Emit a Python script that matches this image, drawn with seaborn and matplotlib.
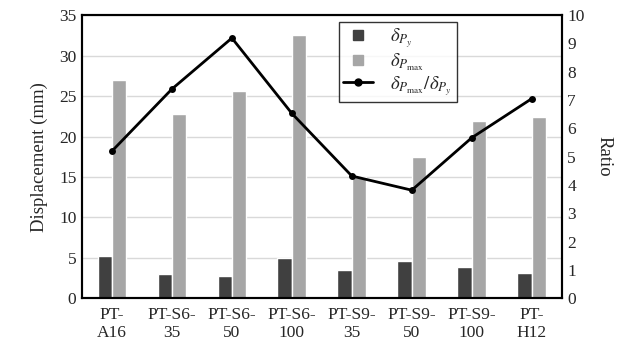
import numpy as np
import pandas as pd
import matplotlib
matplotlib.use("Agg")
import matplotlib.pyplot as plt
from matplotlib.lines import Line2D
import seaborn as sns

categories = ["PT-\nA16", "PT-S6-\n35", "PT-S6-\n50", "PT-S6-\n100",
              "PT-S9-\n35", "PT-S9-\n50", "PT-S9-\n100", "PT-\nH12"]
delta_py = [5.2, 3.05, 2.76, 4.98, 3.5, 4.6, 3.9, 3.2]
delta_pmax = [27.0, 22.8, 25.6, 32.6, 15.0, 17.5, 21.9, 22.4]
ratio = [5.2, 7.39, 9.19, 6.53, 4.32, 3.82, 5.67, 7.05]

lab_y = r"$\delta_{P_y}$"
lab_max = r"$\delta_{P_{\max}}$"
lab_ratio = r"$\delta_{P_{\max}}/\delta_{P_y}$"

sns.set_theme(style="white")
plt.rcParams["font.family"] = ["Liberation Serif", "DejaVu Serif"]
plt.rcParams["mathtext.fontset"] = "stix"
plt.rcParams["font.size"] = 12

df = pd.DataFrame({
    "cat": categories * 2,
    "val": delta_py + delta_pmax,
    "series": [lab_y] * len(categories) + [lab_max] * len(categories),
})

fig = plt.figure(figsize=(6.23, 3.43), dpi=100)
ax = fig.add_axes([0.1316, 0.130, 0.770, 0.826])
dark = "#404040"
light = "#a6a6a6"
sns.barplot(data=df, x="cat", y="val", hue="series", palette=[dark, light],
            width=0.48, gap=0, ax=ax, legend=False, saturation=1)
ax.set_ylim(0, 35)
ax.set_yticks(np.arange(0, 36, 5))
ax.yaxis.grid(True, color="#d9d9d9", linewidth=1)
ax.set_axisbelow(True)
ax.set_xlabel("")
ax.set_ylabel("Displacement (mm)", fontsize=13.5, labelpad=8)
ax.tick_params(axis="y", length=0, labelsize=12.5, pad=4)
ax.tick_params(axis="x", length=0, labelsize=12.5, pad=6)
for s in ax.spines.values():
    s.set_color("black")
    s.set_linewidth(1.5)

ax2 = ax.twinx()
sns.lineplot(x=np.arange(len(categories)), y=ratio, ax=ax2, color="black",
             linewidth=2, marker="o", markersize=5, markeredgewidth=0)
ax2.set_ylim(0, 10)
ax2.set_yticks(np.arange(0, 11, 1))
ax2.set_ylabel("Ratio", rotation=-90, labelpad=20, fontsize=13.5)
ax2.tick_params(axis="y", length=0, labelsize=12.5, pad=4)
ax2.grid(False)
for s in ax2.spines.values():
    s.set_color("black")
    s.set_linewidth(1.5)
ax.set_xlim(-0.5, len(categories) - 0.5)

handles = [
    Line2D([], [], marker="s", linestyle="none", color=dark, markersize=7),
    Line2D([], [], marker="s", linestyle="none", color=light, markersize=7),
    Line2D([], [], marker="o", color="black", linewidth=2, markersize=5),
]
leg = ax2.legend(handles, [lab_y, lab_max, lab_ratio], loc="upper left",
                 bbox_to_anchor=(0.535, 0.975), borderaxespad=0,
                 frameon=True, fancybox=False,
                 edgecolor="black", fontsize=13.5, handlelength=1.6,
                 labelspacing=0.05, borderpad=0.25, handletextpad=0.9)
leg.get_frame().set_linewidth(1.0)

fig.savefig("out.png", dpi=100)
